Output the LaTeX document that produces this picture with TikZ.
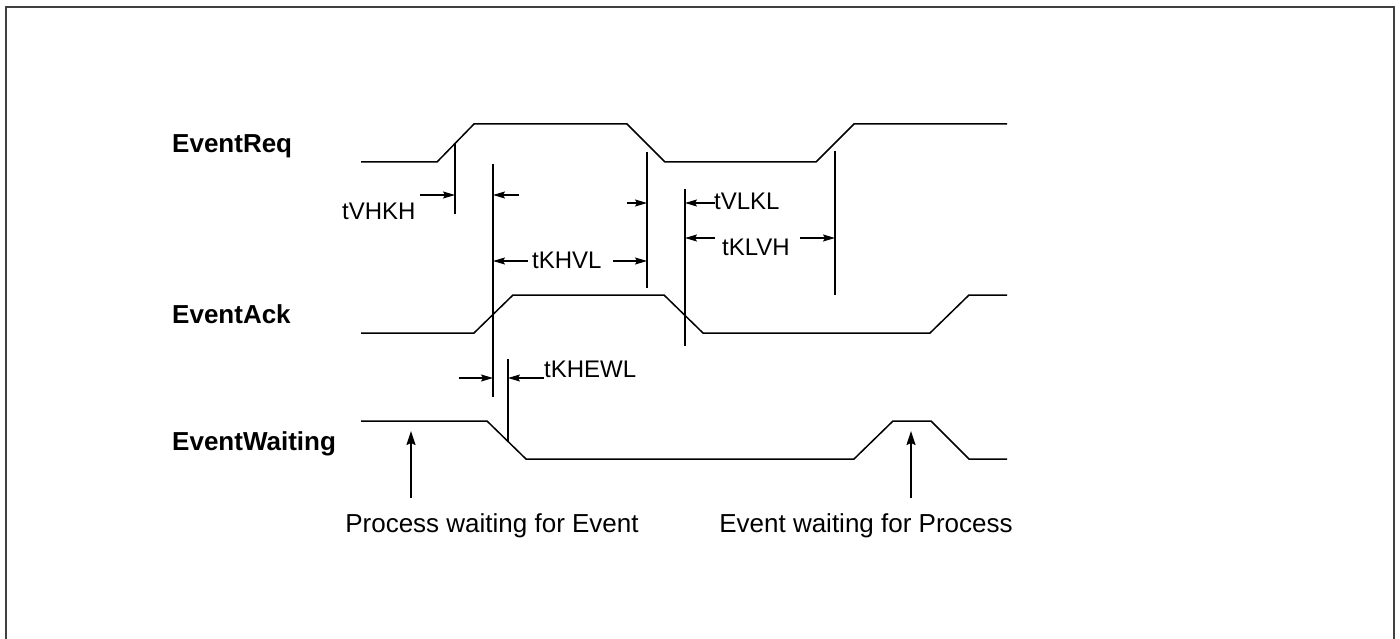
\documentclass[tikz,border=0pt]{standalone}
\usepackage{fontspec}
\setmainfont{Liberation Sans}
\usetikzlibrary{arrows.meta}
\begin{document}
\begin{tikzpicture}[x=1pt,y=-1pt,
  sig/.style={line width=1.5pt, line join=miter},
  vline/.style={line width=1.8pt},
  dim/.style={line width=1.1pt, -{Stealth[length=12pt,width=7pt,inset=2pt]}},
  ptr/.style={line width=1.6pt, -{Stealth[length=14pt,width=9pt,inset=2pt]}},
  lbl/.style={inner sep=0pt, anchor=base west, font=\fontsize{24}{28}\selectfont},
  clbl/.style={inner sep=0pt, anchor=base, font=\fontsize{26}{30}\selectfont},
  sname/.style={inner sep=0pt, anchor=base west, font=\fontsize{26}{30}\selectfont\bfseries},
  frm/.style={line width=1.6pt, draw=black!75}]

\useasboundingbox (0,0) rectangle (1400,639);

% frame (open at the bottom)
\coordinate (fbl) at (6,645);
\coordinate (ftl) at (6,7);
\coordinate (ftr) at (1394,7);
\coordinate (fbr) at (1394,645);
\draw[frm] (fbl) -- (ftl) -- (ftr) -- (fbr);

% signal names
\node[sname] (nreq)  at (172,153) {EventReq};
\node[sname] (nack)  at (172,323) {EventAck};
\node[sname] (nwait) at (172,450) {EventWaiting};

% waveforms
\draw[sig] (361,162) -- (437,162) -- (474,124) -- (627,124) -- (665,162)
           -- (816,162) -- (854,124) -- (1007,124);
\draw[sig] (361,333) -- (474,333) -- (513,295) -- (664,295) -- (703,333)
           -- (930,333) -- (969,295) -- (1007,295);
\draw[sig] (361,421) -- (487,421) -- (526,459) -- (854,459) -- (893,421)
           -- (931,421) -- (969,459) -- (1007,459);

% reference lines
\coordinate (l1t) at (455,143); \coordinate (l1b) at (455,214);
\coordinate (l2t) at (493,164); \coordinate (l2b) at (493,397);
\coordinate (l3t) at (647,152); \coordinate (l3b) at (647,288);
\coordinate (l4t) at (685,189); \coordinate (l4b) at (685,346);
\coordinate (l5t) at (835,151); \coordinate (l5b) at (835,295);
\coordinate (l6t) at (508,359); \coordinate (l6b) at (508,442);
\draw[vline] (l1t) -- (l1b);
\draw[vline] (l2t) -- (l2b);
\draw[vline] (l3t) -- (l3b);
\draw[vline] (l4t) -- (l4b);
\draw[vline] (l5t) -- (l5b);
\draw[vline] (l6t) -- (l6b);

% tVHKH
\node[lbl] (tvhkh) at (342,219) {tVHKH};
\coordinate (a1s) at (420,195); \coordinate (a1e) at (455,195);
\draw[dim] (a1s) -- (a1e);
\coordinate (a2s) at (519,195); \coordinate (a2e) at (493,195);
\draw[dim] (a2s) -- (a2e);
\coordinate (a4s) at (627,203); \coordinate (a4e) at (647,203);
\draw[dim] (a4s) -- (a4e);

% tKHVL
\node[lbl] (tkhvl) at (532,268) {tKHVL};
\coordinate (a3s) at (528,261); \coordinate (a3e) at (493,261);
\draw[dim] (a3s) -- (a3e);
\coordinate (a3bs) at (613,261); \coordinate (a3be) at (647,261);
\draw[dim] (a3bs) -- (a3be);

% tVLKL
\node[lbl] (tvlkl) at (714,210) {tVLKL};
\coordinate (a5s) at (715,203); \coordinate (a5e) at (685,203);
\draw[dim] (a5s) -- (a5e);

% tKLVH
\node[lbl] (tklvh) at (722,255) {tKLVH};
\coordinate (a6s) at (715,238); \coordinate (a6e) at (685,238);
\draw[dim] (a6s) -- (a6e);
\coordinate (a6bs) at (800,238); \coordinate (a6be) at (835,238);
\draw[dim] (a6bs) -- (a6be);

% tKHEWL
\node[lbl] (tkhewl) at (544,377) {tKHEWL};
\coordinate (a7s) at (459,378); \coordinate (a7e) at (493,378);
\draw[dim] (a7s) -- (a7e);
\coordinate (a8s) at (544,378); \coordinate (a8e) at (508,378);
\draw[dim] (a8s) -- (a8e);

% bottom annotations
\coordinate (p1s) at (411,498); \coordinate (p1e) at (411,431);
\draw[ptr] (p1s) -- (p1e);
\coordinate (p2s) at (911,498); \coordinate (p2e) at (911,431);
\draw[ptr] (p2s) -- (p2e);
\node[clbl] (pwe) at (492,532) {Process waiting for Event};
\node[clbl] (ewp) at (866,532) {Event waiting for Process};

\end{tikzpicture}
\end{document}
